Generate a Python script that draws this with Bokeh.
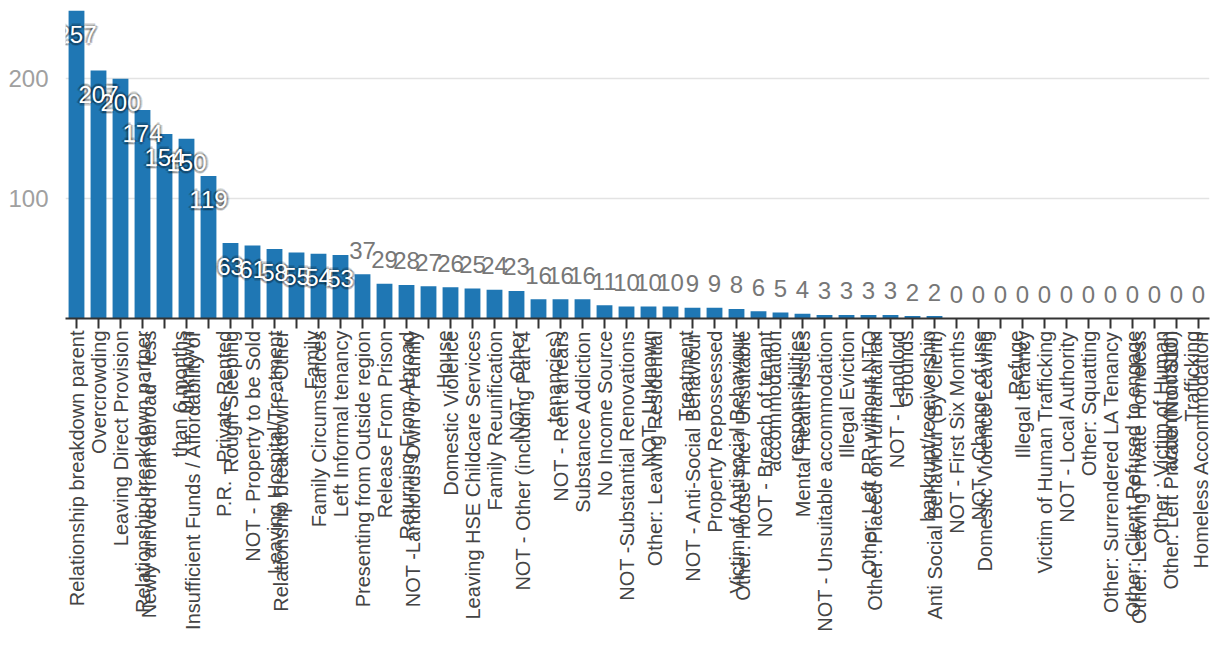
import math
from bokeh.plotting import figure
from bokeh.models import ColumnDataSource, FactorRange, Range1d, FixedTicker
from bokeh.core.properties import value
from bokeh.embed import file_html
from bokeh.resources import INLINE

categories = [
    "Relationship breakdown parent",
    "Overcrowding",
    "Leaving Direct Provision",
    "Relationship breakdown partner",
    "Newly arrived from abroad - less\nthan 6 months",
    "Unknown",
    "Insufficient Funds / Affordability of\nP.R. - Private Rented",
    "Rough Sleeping",
    "NOT - Property to be Sold",
    "Leaving Hospital/Treatment",
    "Relationship breakdown - Other\nFamily",
    "Family Circumstances",
    "Left Informal tenancy",
    "Presenting from Outside region",
    "Release From Prison",
    "Returning From Abroad",
    "NOT -Landlords Own or Family\nHouse",
    "Domestic Violence",
    "Leaving HSE Childcare Services",
    "Family Reunification",
    "NOT - Other",
    "NOT - Other (including Part 4\ntenancies)",
    "NOT - Rent arrears",
    "Substance Addiction",
    "No Income Source",
    "NOT -Substantial Renovations",
    "NOT_Unknown",
    "Other: Leaving Residential\nTreatment",
    "NOT - Anti-Social Behaviour",
    "Property Repossessed",
    "Victim of Antisocial Behaviour",
    "Other: House Fire / Unsuitable\naccommodation",
    "NOT - Breach of tenant\nresponsibilities",
    "Mental Health Issues",
    "NOT - Unsuitable accommodation",
    "Illegal Eviction",
    "Other: Left PR without NTQ",
    "Other : Placed on Humanitarian\nGrounds",
    "NOT - Landlord\nbankrupt/receivership",
    "Anti Social Behaviour (By Client)",
    "NOT - First Six Months",
    "NOT - Change of use",
    "Domestic Violence Leaving\nRefuge",
    "Illegal tenancy",
    "Victim of Human Trafficking",
    "NOT - Local Authority",
    "Other: Squatting",
    "Other: Surrendered LA Tenancy",
    "Other: Client Refused to engage",
    "Other: Leaving Private Homeless\naccommodation",
    "Other : Victim of Human\nTrafficking",
    "Other: Left Private (Non S10)\nHomeless Accommodation",
]

counts = [
    257, 207, 200, 174, 154, 150, 119, 63, 61, 58, 55, 54, 53, 37, 29, 28, 27,
    26, 25, 24, 23, 16, 16, 16, 11, 10, 10, 10, 9, 9, 8, 6, 5, 4, 3, 3, 3, 3,
    2, 2, 0, 0, 0, 0, 0, 0, 0, 0, 0, 0, 0, 0,
]

y_ticks = [100, 200]
inside_threshold = 50

FONT = value("Liberation Sans")

src = ColumnDataSource(dict(cat=categories, count=counts,
                            label=[str(c) for c in counts]))
inside = ColumnDataSource(dict(
    cat=[c for c, v in zip(categories, counts) if v >= inside_threshold],
    count=[v for v in counts if v >= inside_threshold],
    label=[str(v) for v in counts if v >= inside_threshold]))
outside = ColumnDataSource(dict(
    cat=[c for c, v in zip(categories, counts) if v < inside_threshold],
    count=[v for v in counts if v < inside_threshold],
    label=[str(v) for v in counts if v < inside_threshold]))

p = figure(x_range=FactorRange(*categories), y_range=Range1d(0, 257),
           frame_width=1144, frame_height=308,
           min_border_left=65, min_border_right=3, min_border_top=10,
           min_border_bottom=330,
           output_backend="svg", toolbar_location=None, tools="")

p.vbar(x="cat", top="count", width=0.72, source=src,
       fill_color="#1f77b4", line_color=None)

# soft dark halo behind the inside labels
for dx, dy in [(-2, 0), (2, 0), (0, -2), (0, 2), (-1.5, -1.5), (1.5, -1.5),
               (-1.5, 1.5), (1.5, 1.5), (-3, 0), (3, 0), (0, 3), (0, -3)]:
    p.text(x="cat", y="count", text="label", source=inside,
           x_offset=dx, y_offset=24 + dy, text_align="center",
           text_baseline="alphabetic", text_font=FONT,
           text_font_size="24px", text_color="#000000", text_alpha=0.12)
p.text(x="cat", y="count", text="label", source=inside,
       x_offset=0, y_offset=24, text_align="center",
       text_baseline="alphabetic", text_font=FONT,
       text_font_size="24px", text_color="#ffffff")

p.text(x="cat", y="count", text="label", source=outside,
       x_offset=0, y_offset=-24, text_align="center",
       text_baseline="alphabetic", text_font=FONT,
       text_font_size="24px", text_color="#777777")

p.outline_line_color = None
p.background_fill_color = "#ffffff"
p.border_fill_color = "#ffffff"

p.xgrid.grid_line_color = None
p.ygrid.ticker = FixedTicker(ticks=y_ticks)
p.ygrid.grid_line_color = "#e3e3e3"
p.ygrid.grid_line_width = 1.5

xa = p.xaxis[0]
xa.axis_line_color = "#333333"
xa.axis_line_width = 2
xa.major_tick_line_color = "#333333"
xa.major_tick_line_width = 2
xa.major_tick_out = 10
xa.major_tick_in = 0
xa.major_label_standoff = 2
xa.major_label_orientation = math.pi / 2
xa.major_label_text_font = "Liberation Sans"
xa.major_label_text_font_size = "20px"
xa.major_label_text_color = "#444444"
xa.major_label_text_line_height = 1.4

ya = p.yaxis[0]
ya.ticker = FixedTicker(ticks=y_ticks)
ya.axis_line_color = None
ya.major_tick_line_color = None
ya.minor_tick_line_color = None
ya.major_label_standoff = 11
ya.major_label_text_font = "Liberation Sans"
ya.major_label_text_font_size = "24px"
ya.major_label_text_color = "#a0a0a0"

open("out.html", "w").write(file_html(p, INLINE))
